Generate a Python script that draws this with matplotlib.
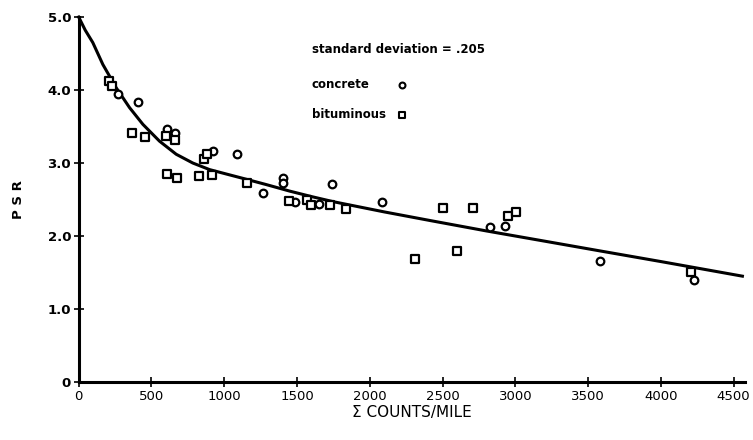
import matplotlib
matplotlib.use("Agg")
import matplotlib.pyplot as plt

# fitted curve
curve_x = [0, 45, 97, 166, 258, 349, 441, 555, 670, 784, 899, 1013, 1128, 1288,
           1450, 1600, 1750, 1900, 2100, 2420, 2800, 3200, 3570, 4000, 4560]
curve_y = [5.00, 4.82, 4.65, 4.35, 4.03, 3.76, 3.53, 3.30, 3.12, 3.00, 2.91, 2.85,
           2.79, 2.705, 2.615, 2.54, 2.47, 2.41, 2.33, 2.21, 2.07, 1.93, 1.80,
           1.65, 1.45]

# concrete sections (circles)
concrete_x = [272, 407, 604, 662, 925, 1085, 1268, 1401, 1401, 1486, 1650,
              1740, 2086, 2823, 2928, 3585, 4226]
concrete_y = [3.95, 3.83, 3.47, 3.41, 3.17, 3.12, 2.59, 2.79, 2.73, 2.47, 2.44,
              2.71, 2.46, 2.12, 2.14, 1.66, 1.40]

# bituminous sections (squares)
bitum_x = [208, 231, 369, 453, 597, 659, 604, 678, 829, 918, 861, 884, 1156,
           1445, 1570, 1593, 1726, 1834, 2308, 2502, 2596, 2708, 2951, 3003, 4210]
bitum_y = [4.13, 4.06, 3.41, 3.36, 3.37, 3.32, 2.85, 2.79, 2.82, 2.83, 3.05, 3.12,
           2.73, 2.48, 2.50, 2.42, 2.43, 2.37, 1.68, 2.38, 1.79, 2.38, 2.28, 2.33, 1.51]

x_ticks = [0, 500, 1000, 1500, 2000, 2500, 3000, 3500, 4000, 4500]
y_ticks = [0, 1.0, 2.0, 3.0, 4.0, 5.0]
y_labels = ["0", "1.0", "2.0", "3.0", "4.0", "5.0"]

fig = plt.figure(figsize=(7.53, 4.40), dpi=100)
ax = fig.add_axes([0.1045, 0.1318, 0.8853, 0.8295])

ax.plot(curve_x, curve_y, color="black", lw=2.2, clip_on=False, zorder=2,
        solid_joinstyle="round")
ax.scatter(concrete_x, concrete_y, s=30, marker="o", facecolors="white",
           edgecolors="black", linewidths=1.6, zorder=3, clip_on=False)
ax.scatter(bitum_x, bitum_y, s=30, marker="s", facecolors="white",
           edgecolors="black", linewidths=1.6, zorder=3, clip_on=False)

ax.set_xlim(0, 4580)
ax.set_ylim(0, 5.0)
for side in ("top", "right"):
    ax.spines[side].set_visible(False)
for side in ("left", "bottom"):
    ax.spines[side].set_linewidth(2.2)

ax.set_xticks(x_ticks)
ax.set_yticks(y_ticks)
ax.set_yticklabels(y_labels)
ax.tick_params(direction="inout", length=7, width=1.2, labelsize=9.5, pad=2)
for lab in ax.get_yticklabels():
    lab.set_fontweight("bold")

ax.set_xlabel("Σ COUNTS/MILE", fontsize=11, labelpad=2)
ax.set_ylabel("P S R", fontsize=9.5, fontweight="bold", labelpad=16)

# legend block drawn as text
ax.text(1600, 4.56, "standard deviation = .205", fontsize=8.5, fontweight="bold",
        va="center")
ax.text(1600, 4.07, "concrete", fontsize=8.5, fontweight="bold", va="center")
ax.text(1600, 3.66, "bituminous", fontsize=8.5, fontweight="bold", va="center")
ax.scatter([2220], [4.07], s=18, marker="o", facecolors="white",
           edgecolors="black", linewidths=1.5)
ax.scatter([2220], [3.66], s=18, marker="s", facecolors="white",
           edgecolors="black", linewidths=1.5)

fig.savefig("out.png", dpi=100)
